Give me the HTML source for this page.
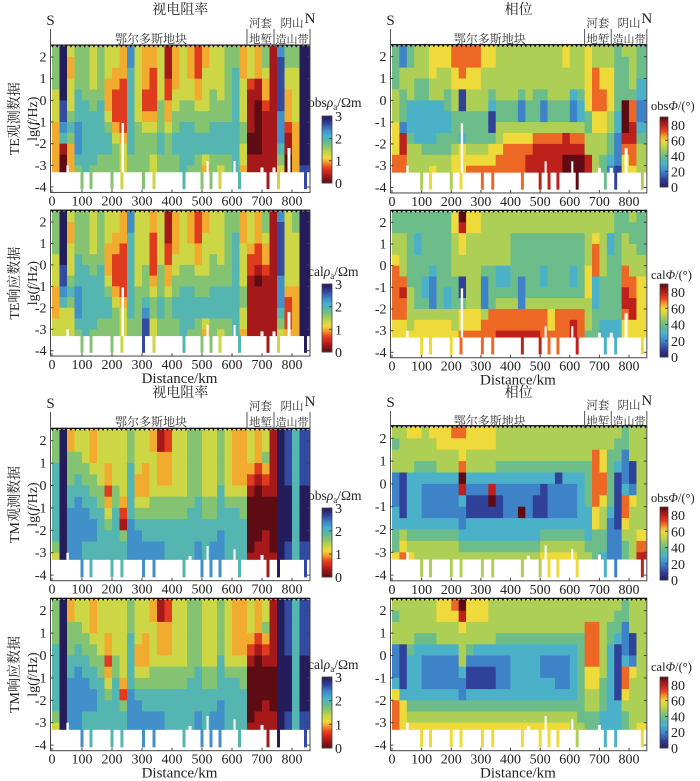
<!DOCTYPE html>
<html><head><meta charset="utf-8">
<style>
html,body{margin:0;padding:0;background:#fff;}
svg{display:block;}
svg text{font-family:"Liberation Serif","Noto Serif CJK SC",serif;}
</style></head>
<body>
<svg id="fig" width="700" height="781" viewBox="0 0 700 781" xmlns="http://www.w3.org/2000/svg"></svg>
<script>
// ---- chart data: each panel = 34 columns (25 km each), each string = 12 depth rows (lg f 2.5 -> -3.5, step 0.5)
// resistivity digit d -> log10 rho = d/3 ; phase digit d -> phase = 10*d degrees
const teRhoObs = ["555544433333","999998876100","433444565333","555566677765","555556666666","444455666665","555556666655","444333456655","443322234555","333222223444","776666666655","444444455555","333322345555","332222345544","444445556655","111223345555","333344556655","444445566666","333445566665","222334556655","334444556643","444455566655","444445566654","555555566655","556666666666","333444455443","444211110011","333110000011","554332111111","111111111111","788888777654","554433321100","554444433333","999999999998"];
const teRhoCal = ["555544433344","999998876444","433444565444","555566677765","555556666666","444455666665","555556666655","444333456655","443322234555","333222223444","776666666655","444444455555","444445556788","332222345544","444445556655","111223345555","333344556655","444445566666","333445566665","222334556655","334444556643","444455566655","444445566654","555555566655","556666666666","333444455443","444322111111","333221011111","554332111111","111111111111","788888777654","444444432223","554444433333","999999999999"];
const tmRhoObs = ["555666666654","999999999999","335556677777","445566777777","444556677766","333455667766","444445566666","444332345666","444445566666","444444321566","555666667777","444433456777","444333456677","334444556677","113334556677","223334556666","444444556666","444444556666","555555566666","555555666677","444444556666","444444556677","555556666777","444444566666","333334566666","333334556666","444321000001","333210000011","445321000111","111111000001","999999999999","888889999988","666666666666","888889999988"];
const tmRhoCal = ["555566666654","999999999999","335556677777","445566777777","444556677766","333455667766","444445566666","444332345666","444445566666","444444432566","555666667777","444433456777","444333456677","334444556677","113334556677","223334556666","444444556666","444444556666","555555566666","555555666677","444444556666","444444556677","555556666777","444444566666","333334566666","333334556666","444321000001","333210000011","445321000111","111111000011","999999999999","888889999988","666666666666","888889999988"];
const tePhObs = ["444455566677","225544428877","445553334555","555443333555","555443333455","666553333456","665553334455","665544334455","776655444566","777611443666","776655444567","776655444567","665555444567","665543114667","555554455677","555554456777","555554456777","555542256777","555554456788","555544457888","555542257888","555554457888","555554457888","665554458899","555532257899","555543357899","666666445588","557777665555","556677665544","556666554432","444444332221","544449998766","555547788776","444332234555"];
const tePhCal = ["445567777766","445555787766","444444455556","443344444566","444444334566","444443222566","444444444566","444444433566","665555444556","986655114667","665555555667","665555555667","555554222577","555554444777","555553345778","555553345778","554444445778","554444222778","554444445778","554444445778","554443345777","554444445667","554444445777","554444445777","554443345788","554444445777","555556665554","556777333444","555555444433","553344444433","444444444433","445557788766","544555778866","444455666666"];
const tmPhObs = ["545522233446","555511113567","655533333456","655433333455","555432223455","655432223455","665532223455","665532223455","765532223455","766798322345","665532113345","665532113345","665532113345","665538913345","555432113345","555432223345","555432223345","555432293345","555432223345","555432113345","555431113456","555432223456","555412223456","555432223456","555432223456","555433333455","555444433345","557777766444","556677655443","554444432222","544311111222","442223776544","555112655555","555555555678"];
const tmPhCal = ["545522236777","555511113666","555543333456","555433333456","555432223456","555432223456","665532223456","665532223456","765532223456","986555322456","665542113456","665532113456","665532113456","555532113456","555432223456","555432223456","555433333456","555433333456","555433333456","555433333456","555432233456","555432233456","555432223456","555432223456","555433333455","555444444445","557777665544","557777665544","555555544433","554433333333","544311111333","442223776544","555112655555","555555555556"];
// deep-period extensions (start km) reaching lg f = -4.1
const extKm = [95,125,195,228,300,335,435,495,525,555,620,715,750,840];
// white gaps [start km, width km, top lg f]
const teGaps = [[48,8,-3.0],[232,8,-1.05],[515,7,-2.8],[605,7,-2.8],[695,10,-3.1],[735,10,-3.1],[785,10,-2.2]];
const tmGaps = [[48,8,-3.0],[455,10,-3.15],[515,7,-2.7],[605,7,-2.85],[695,10,-3.1]];
const yTicks = [2,1,0,-1,-2,-3,-4];
const xTicks = [0,100,200,300,400,500,600,700,800];
const rhoBarTicks = [0,1,2,3];
const phBarTicks = [0,20,40,60,80];

const NS="http://www.w3.org/2000/svg";
const FONT='"Liberation Serif","Noto Serif CJK SC",serif';
const svg=document.getElementById('fig');
function el(tag,attrs,parent){const e=document.createElementNS(NS,tag);for(const k in attrs)e.setAttribute(k,attrs[k]);if(tag==='text')e.setAttribute('font-family',FONT);(parent||svg).appendChild(e);return e;}
function txt(str,attrs,parent){const e=el('text',attrs,parent);e.textContent=str;return e;}

const stops=[[0,[92,12,18]],[0.1,[184,28,28]],[0.19,[232,64,31]],[0.26,[242,150,42]],[0.33,[240,218,58]],[0.42,[190,212,74]],[0.5,[136,196,110]],[0.58,[96,186,150]],[0.68,[72,176,208]],[0.78,[62,130,200]],[0.9,[47,58,148]],[1,[37,28,92]]];
function cmap(u){u=Math.max(0,Math.min(1,u));for(let i=1;i<stops.length;i++){if(u<=stops[i][0]){const a=stops[i-1],b=stops[i];const t=(u-a[0])/(b[0]-a[0]);const c=a[1].map((v,j)=>Math.round(v+(b[1][j]-v)*t));return `rgb(${c[0]},${c[1]},${c[2]})`;}}return 'rgb(37,28,92)';}
function colorFor(type,d){return type==='rho'?cmap(Math.pow(d/9,1.15)):cmap(1-d/9);}

const L={x0:52,kx:0.3}, R={x0:392,kx:0.2963};
const panels=[
 {name:'te-obs-rho',data:teRhoObs,type:'rho',h:L,y2:57,k:21.67,gaps:teGaps,ylab:'TE观测数据',bar:[116,183],barLab:['obs','ρ','a','/Ωm'],labY:107},
 {name:'te-cal-rho',data:teRhoCal,type:'rho',h:L,y2:222,k:21.45,gaps:teGaps,ylab:'TE响应数据',bar:[284,352],barLab:['cal','ρ','a','/Ωm'],labY:276,xlab:true},
 {name:'tm-obs-rho',data:tmRhoObs,type:'rho',h:L,y2:440.7,k:22.4,gaps:tmGaps,ylab:'TM观测数据',bar:[508,577],barLab:['obs','ρ','a','/Ωm'],labY:500},
 {name:'tm-cal-rho',data:tmRhoCal,type:'rho',h:L,y2:610.7,k:22.4,gaps:tmGaps,ylab:'TM响应数据',bar:[677,748],barLab:['cal','ρ','a','/Ωm'],labY:669,xlab:true},
 {name:'te-obs-phase',data:tePhObs,type:'ph',h:R,y2:56.7,k:21.8,gaps:teGaps,bar:[117,187],barLab:['obs','Φ','','/(°)'],labY:110},
 {name:'te-cal-phase',data:tePhCal,type:'ph',h:R,y2:222.3,k:21.67,gaps:teGaps,bar:[284,357],barLab:['cal','Φ','','/(°)'],labY:279,xlab:true},
 {name:'tm-obs-phase',data:tmPhObs,type:'ph',h:R,y2:438.3,k:22.8,gaps:tmGaps,bar:[507,580],barLab:['obs','Φ','','/(°)'],labY:502},
 {name:'tm-cal-phase',data:tmPhCal,type:'ph',h:R,y2:610.7,k:22.4,gaps:tmGaps,bar:[677,748],barLab:['cal','Φ','','/(°)'],labY:671,xlab:true}
];

panels.forEach(p=>{
  const X=km=>p.h.x0+km*p.h.kx, Y=v=>p.y2-(v-2)*p.k;
  const g=el('g',{});
  
  
  const base=-3.3;
  p.data.forEach((colStr,c)=>{
    const k0=c*25, k1=(c===p.data.length-1)?857:c*25+25;
    for(let r=0;r<colStr.length;r++){
      const top=2.5-0.5*r; let bot=top-0.5; if(bot<base)bot=base; if(top<=base)break;
      const rc=el('rect',{x:X(k0).toFixed(2),y:Y(top).toFixed(2),width:(X(k1)-X(k0)+0.4).toFixed(2),height:(Y(bot)-Y(top)+0.4).toFixed(2),fill:colorFor(p.type,+colStr[r])},g);
      
      
    }
  });
  extKm.forEach(km=>{
    const c=Math.min(33,Math.floor(km/25));
    const d=+p.data[c][11];
    const rc=el('rect',{x:X(km),y:Y(base),width:(10*p.h.kx).toFixed(2),height:(Y(-4.1)-Y(base)).toFixed(2),fill:colorFor(p.type,d)},g);
    
    
  });
  p.gaps.forEach(gp=>{
    el('rect',{x:X(gp[0]),y:Y(gp[2]),width:(gp[1]*p.h.kx).toFixed(2),height:(Y(base)-Y(gp[2])+0.5).toFixed(2),fill:'#fff'},g);
  });
  const fx0=X(-5),fx1=X(860),fy0=Y(2.55),fy1=Y(-4.25);
  const fr=el('rect',{x:fx0,y:fy0,width:fx1-fx0,height:fy1-fy0,fill:'none',stroke:'#444','stroke-width':1},g);
  
  
  el('line',{x1:fx0,x2:fx1,y1:fy0,y2:fy0,stroke:'#111','stroke-width':1.2},g);
  for(let x=fx0+2;x<fx1-1;x+=4.6){el('path',{d:`M${x-1.6},${fy0} L${x+1.6},${fy0} L${x},${fy0+2.6}Z`,fill:'#111'},g);}
  yTicks.forEach(v=>{
    el('line',{x1:fx0,x2:fx0+3,y1:Y(v),y2:Y(v),stroke:'#444'},g);
    el('line',{x1:fx1,x2:fx1-3,y1:Y(v),y2:Y(v),stroke:'#444'},g);
    const t=txt(String(v),{x:fx0-4,y:Y(v)+4.5,'text-anchor':'end','font-size':14,fill:'#222'},g);
    
    
  });
  xTicks.forEach(v=>{
    el('line',{x1:X(v),x2:X(v),y1:fy1,y2:fy1-3,stroke:'#444'},g);
    const t=txt(String(v),{x:X(v),y:fy1+13,'text-anchor':'middle','font-size':14,fill:'#222'},g);
    
    
  });
  if(p.xlab){
    const t=txt('Distance/km',{x:X(425),y:fy1+27,'text-anchor':'middle','font-size':15,fill:'#222'},g);
    
    
  }
  if(p.ylab){
    const cy=Y(-0.85);
    const t=txt(p.ylab,{x:0,y:0,transform:`translate(19,${cy}) rotate(-90)`,'text-anchor':'middle','font-size':14,fill:'#222'},g);
    
    
    const t2=el('text',{transform:`translate(37,${cy}) rotate(-90)`,'text-anchor':'middle','font-size':14,fill:'#222'},g);
    
    
    t2.innerHTML='lg(<tspan font-style="italic">f</tspan>/Hz)';
  }
  const bx=p.type==='rho'?322:660, bw=p.type==='rho'?10:8;
  const [b0,b1]=p.bar;
  const cb=el('g',{},g);
  
  
  const n=60;
  for(let i=0;i<n;i++){
    const f=(i+0.5)/n;
    const u=p.type==='rho'?Math.pow(f,1.15):1-f;
    el('rect',{x:bx,y:b1-(i+1)*(b1-b0)/n,width:bw,height:(b1-b0)/n+0.4,fill:cmap(u)},cb);
  }
  el('rect',{x:bx,y:b0,width:bw,height:b1-b0,fill:'none',stroke:'#444','stroke-width':0.8},cb);
  const ticks=p.type==='rho'?rhoBarTicks:phBarTicks, vmax=p.type==='rho'?3:90;
  ticks.forEach(v=>{
    const yy=b1-(v/vmax)*(b1-b0);
    el('line',{x1:bx+bw-3,x2:bx+bw,y1:yy,y2:yy,stroke:'#444'},cb);
    txt(String(v),{x:bx+bw+3,y:yy+5,'font-size':14,fill:'#222'},cb);
  });
  const lb=el('text',{x:p.type==='rho'?308:651,y:p.labY,'font-size':p.type==='rho'?13.5:12.5,fill:'#222'},g);
  
  
  const bl=p.barLab;
  lb.innerHTML=`${bl[0]}<tspan font-style="italic">${bl[1]}</tspan>${bl[2]?`<tspan font-size="9" dy="3">${bl[2]}</tspan><tspan dy="-3">${bl[3]}</tspan>`:bl[3]}`;
});

function header(h,titleStr,titleY,topY){
  const X=km=>h.x0+km*h.kx;
  const g=el('g',{});
  
  
  const t=txt(titleStr,{x:(X(-5)+X(860))/2,y:titleY,'text-anchor':'middle','font-size':14,fill:'#222'},g);
  
  
  txt('S',{x:X(-5),y:topY-21,'text-anchor':'middle','font-size':15,fill:'#222'},g);
  txt('N',{x:X(860),y:topY-23,'text-anchor':'middle','font-size':15,fill:'#222'},g);
  [[-5,topY-17],[650,topY-17],[740,topY-17],[860,topY-17]].forEach(a=>el('line',{x1:X(a[0]),x2:X(a[0]),y1:a[1],y2:topY,stroke:'#555','stroke-width':1},g));
  txt('鄂尔多斯地块',{x:X(330),y:topY-3,'text-anchor':'middle','font-size':12,fill:'#333'},g);
  txt('河套',{x:X(695),y:topY-19,'text-anchor':'middle','font-size':11.5,fill:'#333'},g);
  txt('地堑',{x:X(695),y:topY-3,'text-anchor':'middle','font-size':11.5,fill:'#333'},g);
  txt('阴山',{x:X(800),y:topY-19,'text-anchor':'middle','font-size':11.5,fill:'#333'},g);
  txt('造山带',{x:X(800),y:topY-3,'text-anchor':'middle','font-size':11,fill:'#333'},g);
}
header(L,'视电阻率',14,46);
header(R,'相位',14,46);
header(L,'视电阻率',397,429);
header(R,'相位',397,428);
</script>
</body></html>
